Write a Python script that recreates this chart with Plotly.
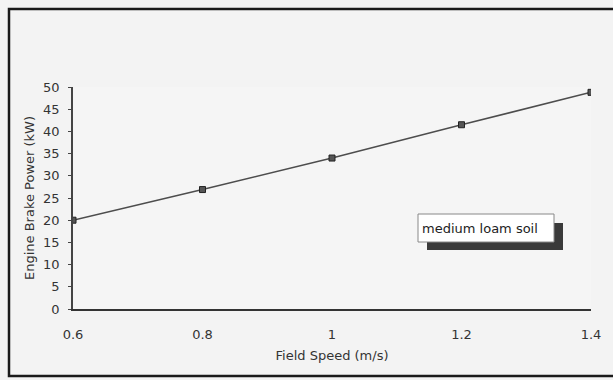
import plotly.graph_objects as go

# Data
field_speed = [0.6, 0.8, 1.0, 1.2, 1.4]          # m/s
brake_power = [20.0, 26.9, 34.0, 41.5, 48.8]     # kW
series_name = "medium loam soil"
x_ticks = [0.6, 0.8, 1.0, 1.2, 1.4]
x_tick_text = ["0.6", "0.8", "1", "1.2", "1.4"]
y_ticks = [0, 5, 10, 15, 20, 25, 30, 35, 40, 45, 50]

W, H = 613, 380
L, R, T, B = 73, 22, 87, 71
pw, ph = W - L - R, H - T - B

def px(x):
    return (x - L) / pw

def py(y):
    return (H - B - y) / ph

font = "DejaVu Sans"
fig = go.Figure()
fig.add_trace(go.Scatter(
    x=field_speed, y=brake_power, mode="lines+markers", name=series_name,
    line=dict(color="#4d4d4d", width=1.5),
    marker=dict(symbol="square", size=6, color="#555555",
                line=dict(color="#222222", width=1)),
    showlegend=False,
))

shapes = [
    # outer chart border
    dict(type="rect", xref="paper", yref="paper",
         x0=px(9), x1=px(625), y0=py(376), y1=py(9),
         line=dict(color="#1a1a1a", width=2.5), fillcolor="rgba(0,0,0,0)", layer="below"),
    # legend shadow
    dict(type="rect", xref="paper", yref="paper",
         x0=px(427), x1=px(563), y0=py(250), y1=py(223),
         line=dict(width=0), fillcolor="#3a3a3a"),
    # legend box
    dict(type="rect", xref="paper", yref="paper",
         x0=px(418), x1=px(554), y0=py(242), y1=py(214),
         line=dict(color="#888888", width=1), fillcolor="#ffffff"),
]

annotations = [
    dict(text=series_name, xref="paper", yref="paper",
         x=px(420), y=py(228), xanchor="left", yanchor="middle",
         showarrow=False, font=dict(family=font, size=13, color="#222222")),
]

fig.update_layout(
    width=W, height=H,
    margin=dict(l=L, r=R, t=T, b=B),
    paper_bgcolor="#f3f3f3", plot_bgcolor="#f5f5f5",
    font=dict(family=font, size=12, color="#333333"),
    shapes=shapes, annotations=annotations,
    xaxis=dict(
        range=[0.6, 1.4], tickvals=x_ticks, ticktext=x_tick_text,
        showgrid=False, zeroline=False, showline=True,
        linecolor="#333333", linewidth=1.5, ticks="",
        ticklabelstandoff=13,
        tickfont=dict(family=font, size=13, color="#333333"),
        title=dict(text="Field Speed (m/s)", standoff=10,
                   font=dict(family=font, size=13, color="#333333")),
    ),
    yaxis=dict(
        range=[0, 50], tickvals=y_ticks,
        showgrid=False, zeroline=False, showline=True,
        linecolor="#444444", linewidth=1.5, ticks="outside", ticklen=3,
        tickcolor="#444444", ticklabelstandoff=6,
        tickfont=dict(family=font, size=13, color="#333333"),
        title=dict(text="Engine Brake Power (kW)", standoff=6,
                   font=dict(family=font, size=13, color="#333333")),
    ),
)

fig.write_html("out.html")
